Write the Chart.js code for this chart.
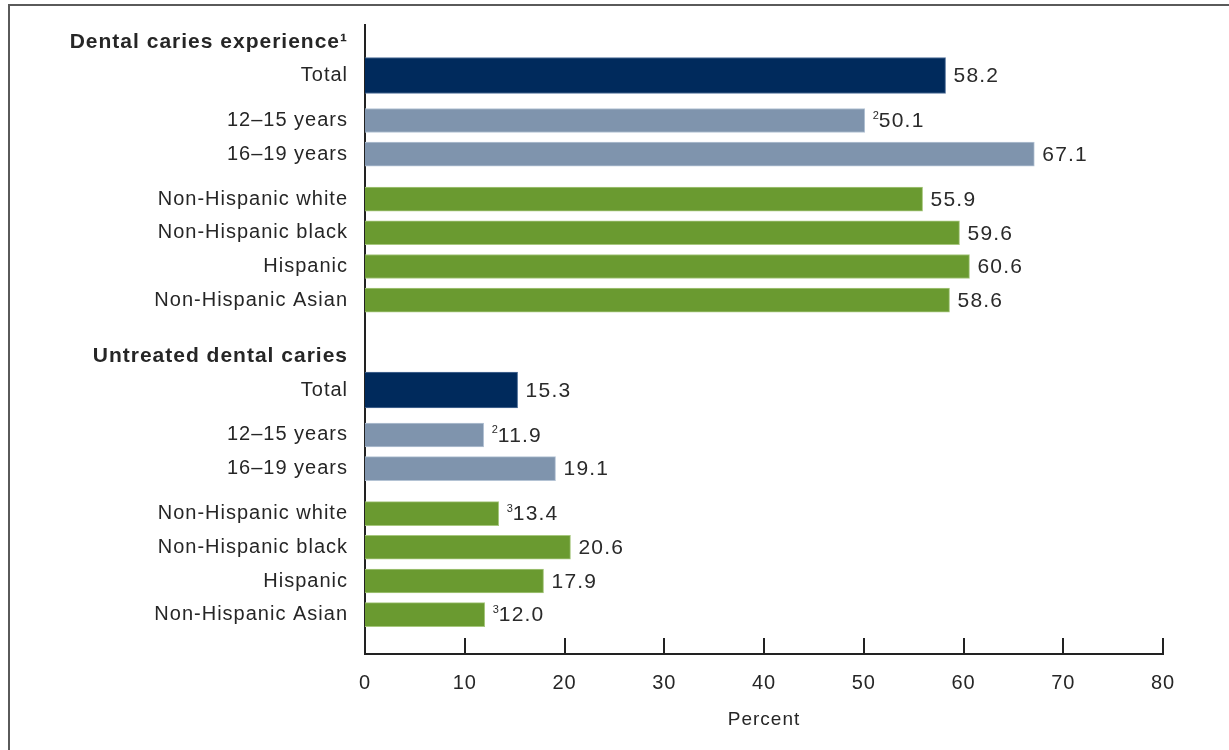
<!DOCTYPE html>
<html>
<head>
<meta charset="utf-8">
<script src="https://cdn.jsdelivr.net/npm/chart.js@4/dist/chart.umd.min.js"></script>
<style>
  html, body { margin: 0; padding: 0; background: #fff; }
  #wrap { position: relative; width: 1229px; height: 750px; }
  #frame { position: absolute; left: 8px; top: 4px; right: -4px; bottom: -4px;
           border-top: 2px solid #5a5a5a; border-left: 2px solid #5a5a5a; pointer-events: none; }
</style>
</head>
<body>
<div id="wrap">
  <canvas id="chart" width="1229" height="750"></canvas>
  <div id="frame"></div>
</div>
<script>
// data -------------------------------------------------
const groups = ["Dental caries experience\u00B9", "Untreated dental caries"];
const categories = ["Total", "12\u201315 years", "16\u201319 years",
  "Non-Hispanic white", "Non-Hispanic black", "Hispanic", "Non-Hispanic Asian"];
const categoryKind = ["total", "age", "age", "race", "race", "race", "race"];
const experience = [58.2, 50.1, 67.1, 55.9, 59.6, 60.6, 58.6];
const untreated = [15.3, 11.9, 19.1, 13.4, 20.6, 17.9, 12.0];
const experienceNotes = ["", "2", "", "", "", "", ""];
const untreatedNotes = ["", "2", "", "3", "", "", "3"];
const xTicks = [0, 10, 20, 30, 40, 50, 60, 70, 80];

const values = [experience, untreated];
const notes = [experienceNotes, untreatedNotes];

// rows with spacer slots so groups sit a bit apart
const slots = [];
function gap(n) { for (let i = 0; i < n; i++) slots.push(null); }
gap(1);
groups.forEach((g, gi) => {
  if (gi > 0) gap(4);
  slots.push({ label: g, heading: true });
  categories.forEach((c, ci) => {
    const prev = ci === 0 ? "heading" : categoryKind[ci - 1];
    const step = (prev === "heading" || prev === categoryKind[ci]) ? 3 : 4;
    gap(step - 1);
    slots.push({ label: c, group: gi, cat: ci });
  });
});
gap(3);

const FONT = "'Liberation Sans', Arial, sans-serif";
const colors = { total: "#002a5c", age: "#7f94ad", race: "#6a9a30" };
const edges = { total: "#4f6f98", age: "#b4c3d4", race: "#a7c77e" };
const thick = { total: 36, age: 24, race: 24 };

function series(kind) {
  return slots.map(s => (s && !s.heading && categoryKind[s.cat] === kind) ? values[s.group][s.cat] : null);
}

const datasets = ["total", "age", "race"].map(kind => ({
  label: kind,
  data: series(kind),
  backgroundColor: colors[kind],
  borderColor: edges[kind],
  borderWidth: 1,
  barThickness: thick[kind],
  grouped: false,
  borderSkipped: "left"
}));

// the original text is set a little wide
const spacing = {
  id: "spacing",
  beforeDraw(chart) { chart.ctx.letterSpacing = "1px"; }
};

// value labels with footnote marks
const valueLabels = {
  id: "valueLabels",
  afterDatasetsDraw(chart) {
    const ctx = chart.ctx;
    ctx.save();
    ctx.textBaseline = "middle";
    ctx.fillStyle = "#2a2a2a";
    chart.data.datasets.forEach((ds, di) => {
      chart.getDatasetMeta(di).data.forEach((el, i) => {
        const v = ds.data[i];
        if (v == null) return;
        const s = slots[i];
        const note = notes[s.group][s.cat];
        let x = el.x + 8;
        if (note) {
          ctx.letterSpacing = "0px";
          ctx.font = "11px " + FONT;
          ctx.fillText(note, x, el.y - 5);
          x += ctx.measureText(note).width;
        }
        ctx.letterSpacing = "1.2px";
        ctx.font = "21px " + FONT;
        ctx.fillText(v.toFixed(1), x, el.y + 1);
      });
    });
    ctx.restore();
  }
};

// tick marks point up into the plot
const innerTicks = {
  id: "innerTicks",
  afterDraw(chart) {
    const sx = chart.scales.x, ctx = chart.ctx;
    const yb = chart.chartArea.bottom;
    ctx.save();
    ctx.strokeStyle = "#222";
    ctx.lineWidth = 2;
    xTicks.forEach(v => {
      if (v === 0) return;
      const px = Math.round(sx.getPixelForValue(v));
      ctx.beginPath();
      ctx.moveTo(px, yb);
      ctx.lineTo(px, yb - 16);
      ctx.stroke();
    });
    ctx.restore();
  }
};

new Chart(document.getElementById("chart"), {
  type: "bar",
  data: { labels: slots.map(s => s ? s.label : ""), datasets },
  options: {
    indexAxis: "y",
    responsive: false,
    animation: false,
    layout: { padding: { left: 10, right: 66, top: 25, bottom: 19 } },
    plugins: { legend: { display: false }, tooltip: { enabled: false } },
    scales: {
      y: {
        grid: { display: false, drawTicks: false },
        border: { display: true, color: "#222", width: 2 },
        ticks: {
          autoSkip: false,
          padding: 17,
          color: "#262626",
          font: (c) => {
            const s = slots[c.index];
            return (s && s.heading) ? { family: FONT, size: 21, weight: "bold" } : { family: FONT, size: 20 };
          }
        },
        afterFit(scale) {
          scale.width = 355;
          scale.paddingTop = 0;
          scale.paddingBottom = 0;
        }
      },
      x: {
        min: 0, max: 80,
        afterBuildTicks(scale) { scale.ticks = xTicks.map(v => ({ value: v })); },
        afterFit(scale) { scale.height = 77; },
        grid: { display: false, drawTicks: false },
        border: { display: true, color: "#222", width: 2 },
        ticks: { padding: 17, color: "#262626", font: { family: FONT, size: 20 } },
        title: { display: true, text: "Percent", color: "#262626", padding: { top: 0, bottom: 0 },
                 font: { family: FONT, size: 19 } }
      }
    }
  },
  plugins: [spacing, valueLabels, innerTicks]
});
</script>
</body>
</html>
